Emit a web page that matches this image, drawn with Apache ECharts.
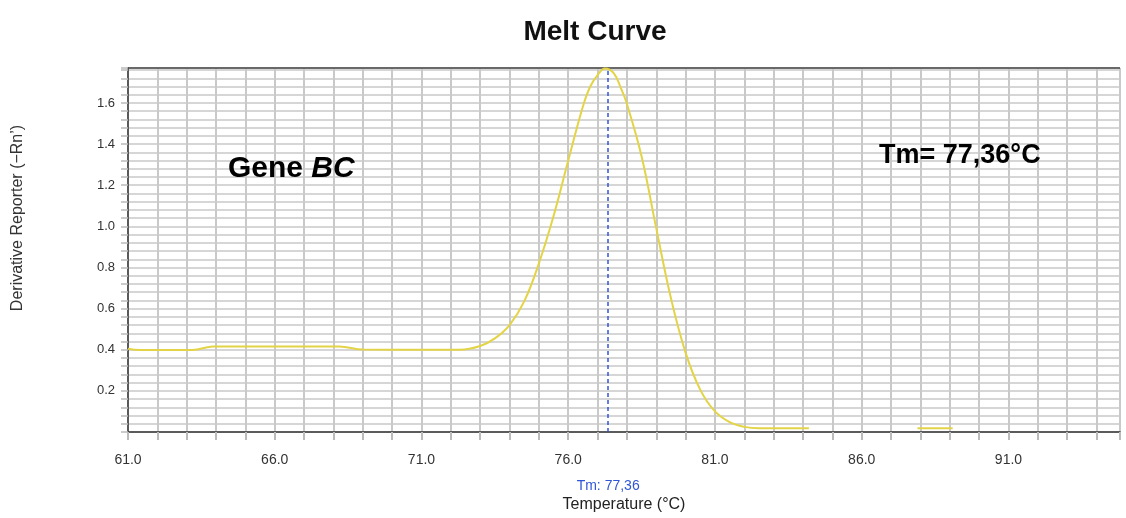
<!DOCTYPE html>
<html>
<head>
<meta charset="utf-8">
<script src="https://cdn.jsdelivr.net/npm/echarts@6/dist/echarts.min.js"></script>
<style>
html,body{margin:0;padding:0;background:#fff;}
#c{width:1126px;height:518px;}
</style>
</head>
<body>
<div id="c"></div>
<script>
const titleText = 'Melt Curve';
const xAxisName = 'Temperature (°C)';
const yAxisName = 'Derivative Reporter (\u2212Rn\u2019)';
const tmValue = 77.36;
const tmLabel = 'Tm: 77,36';
const geneLabelPlain = 'Gene ';
const geneLabelItalic = 'BC';
const tmAnnotation = 'Tm= 77,36°C';

const temps = [61.0, 61.4, 63.2, 63.9, 66.0, 68.2, 69.0, 71.0, 72.3, 73.0, 73.5, 74.0, 74.5, 75.0, 75.5, 76.0, 76.5, 76.75, 77.0, 77.25, 77.55, 77.8, 78.0, 78.5, 79.0, 79.5, 80.0, 80.5, 81.0, 81.5, 82.0, 82.5, 84.2, 86.0, 87.9, 89.1];
const derivative = [0.405, 0.399, 0.399, 0.416, 0.416, 0.416, 0.401, 0.40, 0.40, 0.418, 0.455, 0.52, 0.635, 0.82, 1.05, 1.32, 1.583, 1.68, 1.735, 1.768, 1.745, 1.67, 1.595, 1.34, 0.99, 0.65, 0.385, 0.205, 0.10, 0.048, 0.025, 0.018, 0.018, null, 0.018, 0.018];

const xMin = 61, xMax = 94.8, xStep = 1, xLabelStep = 5;
const yMin = 0, yMax = 1.77, yStep = 0.04, yLabelStep = 0.2;

const chart = echarts.init(document.getElementById('c'), null, {renderer: 'canvas'});
const seriesData = temps.map((t, i) => [t, derivative[i] === null ? '-' : derivative[i]]);
const gridColor = '#c9c9c9';
const font = 'Liberation Sans, Arial, sans-serif';

chart.setOption({
  backgroundColor: '#ffffff',
  animation: false,
  title: {
    text: titleText, left: 590, top: 13, textAlign: 'center',
    textStyle: {fontFamily: font, fontWeight: 'bold', fontSize: 28, color: '#111'}
  },
  grid: {left: 128, right: 6, top: 68, bottom: 85, containLabel: false},
  xAxis: {
    type: 'value', min: xMin, max: xMax, interval: xStep,
    name: xAxisName, nameLocation: 'middle', nameGap: 65,
    nameTextStyle: {fontFamily: font, fontSize: 16, color: '#222'},
    axisLine: {show: true, onZero: false, lineStyle: {color: '#333', width: 1.5}},
    axisTick: {show: true, length: 8, lineStyle: {color: '#bbb', width: 2}},
    axisLabel: {
      margin: 21, fontFamily: font, fontSize: 14, color: '#333',
      formatter: v => {
        const k = (v - xMin) / xLabelStep;
        return (Math.abs(k - Math.round(k)) < 1e-6 && v < 94) ? v.toFixed(1) : '';
      }
    },
    splitLine: {show: true, lineStyle: {color: gridColor, width: 2}}
  },
  yAxis: {
    type: 'value', min: yMin, max: yMax, interval: yStep,
    axisLine: {show: true, lineStyle: {color: '#333', width: 1.5}},
    axisTick: {show: true, length: 7, lineStyle: {color: '#bbb', width: 1.5}},
    axisLabel: {
      margin: 13, fontFamily: font, fontSize: 13, color: '#333',
      formatter: v => {
        const k = Math.round(v / yLabelStep);
        return (k > 0 && Math.abs(v - k * yLabelStep) < 1e-6) ? (k * yLabelStep).toFixed(1) : '';
      }
    },
    splitLine: {show: true, lineStyle: {color: gridColor, width: 1.5}}
  },
  series: [{
    type: 'line', data: seriesData, showSymbol: false, symbol: 'none',
    smooth: 0.4, connectNulls: false, z: 5,
    lineStyle: {color: '#e3d447', width: 2},
    markLine: {
      silent: true, symbol: 'none',
      lineStyle: {color: '#2f55d8', type: [4, 3], width: 1.5},
      label: {show: true, position: 'start', distance: 47, formatter: tmLabel,
        fontFamily: font, fontSize: 14, color: '#2f55d8'},
      data: [
        {xAxis: tmValue},
        {yAxis: yMax, lineStyle: {color: '#444', type: 'solid', width: 1.5}, label: {show: false}}
      ]
    }
  }],
  graphic: [
    {type: 'text', x: 18, y: 218, rotation: Math.PI / 2, z: 100,
      style: {text: yAxisName, fontFamily: font, fontSize: 16, fill: '#333', align: 'center', verticalAlign: 'middle'}},
    {type: 'text', left: 228, top: 154, z: 100,
      style: {text: '{a|' + geneLabelPlain + '}{b|' + geneLabelItalic + '}',
        rich: {a: {fontFamily: font, fontWeight: 'bold', fontSize: 30, fill: '#000'},
               b: {fontFamily: font, fontWeight: 'bold', fontStyle: 'italic', fontSize: 30, fill: '#000'}}}},
    {type: 'text', left: 879, top: 142, z: 100,
      style: {text: tmAnnotation, fontFamily: font, fontWeight: 'bold', fontSize: 27, fill: '#000'}}
  ]
});
</script>
</body>
</html>
